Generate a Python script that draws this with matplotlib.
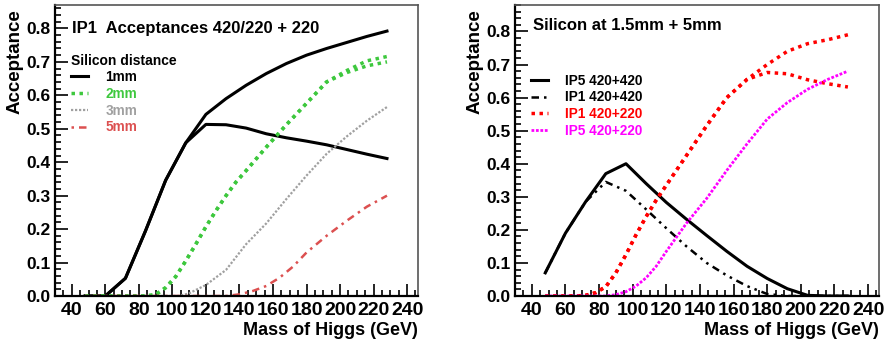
import matplotlib.pyplot as plt
from matplotlib.ticker import MultipleLocator

plt.rcParams['font.family'] = ['Liberation Sans', 'DejaVu Sans']
plt.rcParams['font.weight'] = 'bold'
plt.rcParams['axes.labelweight'] = 'bold'

# ---- left panel: IP1 acceptances, silicon distance ----
m_1mm = [48, 60, 72, 84, 96, 108, 120, 132, 144, 156, 168, 180, 192, 204, 216, 228]
acc_1mm_a = [0, 0, 0.053, 0.195, 0.346, 0.458, 0.543, 0.59, 0.63, 0.665, 0.695, 0.72, 0.74, 0.758, 0.776, 0.792]
acc_1mm_b = [0, 0, 0.053, 0.195, 0.346, 0.458, 0.513, 0.512, 0.502, 0.485, 0.473, 0.463, 0.452, 0.438, 0.424, 0.411]

m_2mm = [48, 60, 72, 84, 90, 96, 102, 108, 114, 120, 126, 132, 138, 144, 156, 168, 180, 192, 204, 216, 228]
acc_2mm_a = [0, 0, 0, 0, 0.004, 0.025, 0.058, 0.105, 0.155, 0.207, 0.255, 0.30, 0.341, 0.375, 0.445, 0.512, 0.576, 0.64, 0.674, 0.703, 0.716]
acc_2mm_b = [0, 0, 0, 0, 0.004, 0.025, 0.058, 0.105, 0.155, 0.207, 0.255, 0.30, 0.341, 0.375, 0.445, 0.512, 0.576, 0.64, 0.668, 0.688, 0.70]

m_3mm = [48, 96, 104, 110, 120, 132, 144, 156, 168, 180, 192, 204, 216, 228]
acc_3mm = [0, 0, 0, 0.008, 0.033, 0.078, 0.155, 0.217, 0.29, 0.36, 0.425, 0.477, 0.524, 0.565]

m_5mm = [48, 132, 140, 148, 156, 164, 172, 180, 192, 204, 216, 228]
acc_5mm = [0, 0, 0.005, 0.015, 0.03, 0.055, 0.088, 0.13, 0.18, 0.225, 0.267, 0.30]

# ---- right panel: silicon at 1.5mm + 5mm ----
m_r = [48, 60, 72, 84, 96, 108, 120, 132, 144, 156, 168, 180, 192, 204, 216, 228]
ip5_420 = [0.07, 0.19, 0.285, 0.37, 0.40, 0.34, 0.283, 0.232, 0.183, 0.135, 0.09, 0.053, 0.022, 0.002, 0, 0]
ip1_420 = [0.07, 0.19, 0.285, 0.345, 0.318, 0.262, 0.205, 0.15, 0.10, 0.062, 0.03, 0.006, 0, 0, 0, 0]

m_ip1_220 = [48, 66, 72, 78, 84, 90, 96, 102, 108, 114, 120, 126, 132, 138, 144, 156, 168, 180, 192, 204, 216, 228]
ip1_220_a = [0, 0, 0.002, 0.01, 0.028, 0.07, 0.125, 0.185, 0.24, 0.29, 0.335, 0.38, 0.425, 0.47, 0.515, 0.6, 0.655, 0.70, 0.74, 0.763, 0.775, 0.79]
ip1_220_b = [0, 0, 0.002, 0.01, 0.028, 0.07, 0.125, 0.185, 0.24, 0.29, 0.335, 0.38, 0.425, 0.47, 0.515, 0.6, 0.655, 0.676, 0.672, 0.654, 0.642, 0.632]

m_ip5_220 = [48, 84, 90, 96, 102, 108, 114, 120, 132, 144, 156, 168, 180, 192, 204, 216, 228]
ip5_220 = [0, 0, 0.004, 0.013, 0.03, 0.055, 0.09, 0.135, 0.22, 0.295, 0.38, 0.46, 0.535, 0.585, 0.625, 0.655, 0.68]

green = '#3ec83e'
grey = '#a0a0a0'
salmon = '#dc5050'

fig = plt.figure(figsize=(8.84, 3.47), dpi=100)
W, H = 884, 347
axL = fig.add_axes([55 / W, 1 - 296 / H, 363 / W, 291 / H])
axR = fig.add_axes([515 / W, 1 - 296 / H, 364 / W, 291 / H])


def style_axes(ax, ytop):
    ax.set_xlim(30, 246.5)
    ax.set_ylim(0, ytop)
    ax.xaxis.set_major_locator(MultipleLocator(20))
    ax.xaxis.set_minor_locator(MultipleLocator(5))
    ax.yaxis.set_major_locator(MultipleLocator(0.1))
    ax.yaxis.set_minor_locator(MultipleLocator(0.02))
    ax.yaxis.set_major_formatter(lambda v, p: '%.1f' % v)
    ax.tick_params(which='both', direction='in', top=False, right=False, width=1.2)
    ax.tick_params(which='major', length=9)
    ax.tick_params(which='minor', length=4.5)
    ax.tick_params(axis='x', labelsize=14, pad=4)
    ax.tick_params(axis='y', labelsize=12.5, pad=3)
    for lab in ax.get_xticklabels() + ax.get_yticklabels():
        lab.set_fontweight('bold')
    for s in ['left', 'bottom']:
        ax.spines[s].set_linewidth(1.6)
    for s in ['top', 'right']:
        ax.spines[s].set_linewidth(1.2)
        ax.spines[s].set_color('#555555')


style_axes(axL, 0.87)
style_axes(axR, 0.88)

# left panel curves
axL.plot(m_1mm, acc_1mm_a, color='black', lw=2.2, label='1mm')
axL.plot(m_1mm, acc_1mm_b, color='black', lw=2.2)
axL.plot(m_2mm, acc_2mm_a, color=green, lw=2.5, ls=(0, (1, 1.3)), label='2mm')
axL.plot(m_2mm, acc_2mm_b, color=green, lw=2.5, ls=(0, (1, 1.3)))
axL.plot(m_3mm, acc_3mm, color=grey, lw=1.6, ls=(0, (1, 0.8)), label='3mm')
axL.plot(m_5mm, acc_5mm, color=salmon, lw=1.8, ls=(0, (1, 2, 3, 2)), label='5mm')

fig.text(72 / W, 1 - 28 / H, 'IP1  Acceptances 420/220 + 220', fontsize=12,
         fontweight='bold', va='center', ha='left')
legL = axL.legend(title='Silicon distance', loc='upper left', frameon=False,
                  bbox_to_anchor=(0.03, 0.852), fontsize=9.8, title_fontsize=10,
                  handlelength=1.2, handletextpad=1.3, labelspacing=0.2,
                  labelcolor='linecolor', borderaxespad=0)
legL._legend_box.align = 'left'
legL.get_title().set_fontweight('bold')

# right panel curves
axR.plot(m_r, ip5_420, color='black', lw=2.2, label='IP5 420+420')
axR.plot(m_r, ip1_420, color='black', lw=1.8, ls=(0, (3, 2, 1, 2, 1, 2)), label='IP1 420+420')
axR.plot(m_ip1_220, ip1_220_a, color='red', lw=2.5, ls=(0, (1, 1.3)), label='IP1 420+220')
axR.plot(m_ip1_220, ip1_220_b, color='red', lw=2.5, ls=(0, (1, 1.3)))
axR.plot(m_ip5_220, ip5_220, color='magenta', lw=2.0, ls=(0, (1, 0.6)), label='IP5 420+220')

fig.text(533 / W, 1 - 25 / H, 'Silicon at 1.5mm + 5mm', fontsize=12,
         fontweight='bold', va='center', ha='left')
legR = axR.legend(loc='upper left', frameon=False, bbox_to_anchor=(0.03, 0.783),
                  fontsize=9.8, handlelength=1.2, handletextpad=1.3,
                  labelspacing=0.2, labelcolor='linecolor', borderaxespad=0)

for ax in [axL, axR]:
    ax.set_xlabel('Mass of Higgs (GeV)', fontsize=13, fontweight='bold',
                  ha='right', va='center')
    ax.xaxis.set_label_coords(1, -0.117)
    ax.set_ylabel('Acceptance', fontsize=13.5, fontweight='bold',
                  ha='right', va='center')
    ax.yaxis.set_label_coords(-0.11, 0.985)

fig.savefig('out.png', dpi=100)
